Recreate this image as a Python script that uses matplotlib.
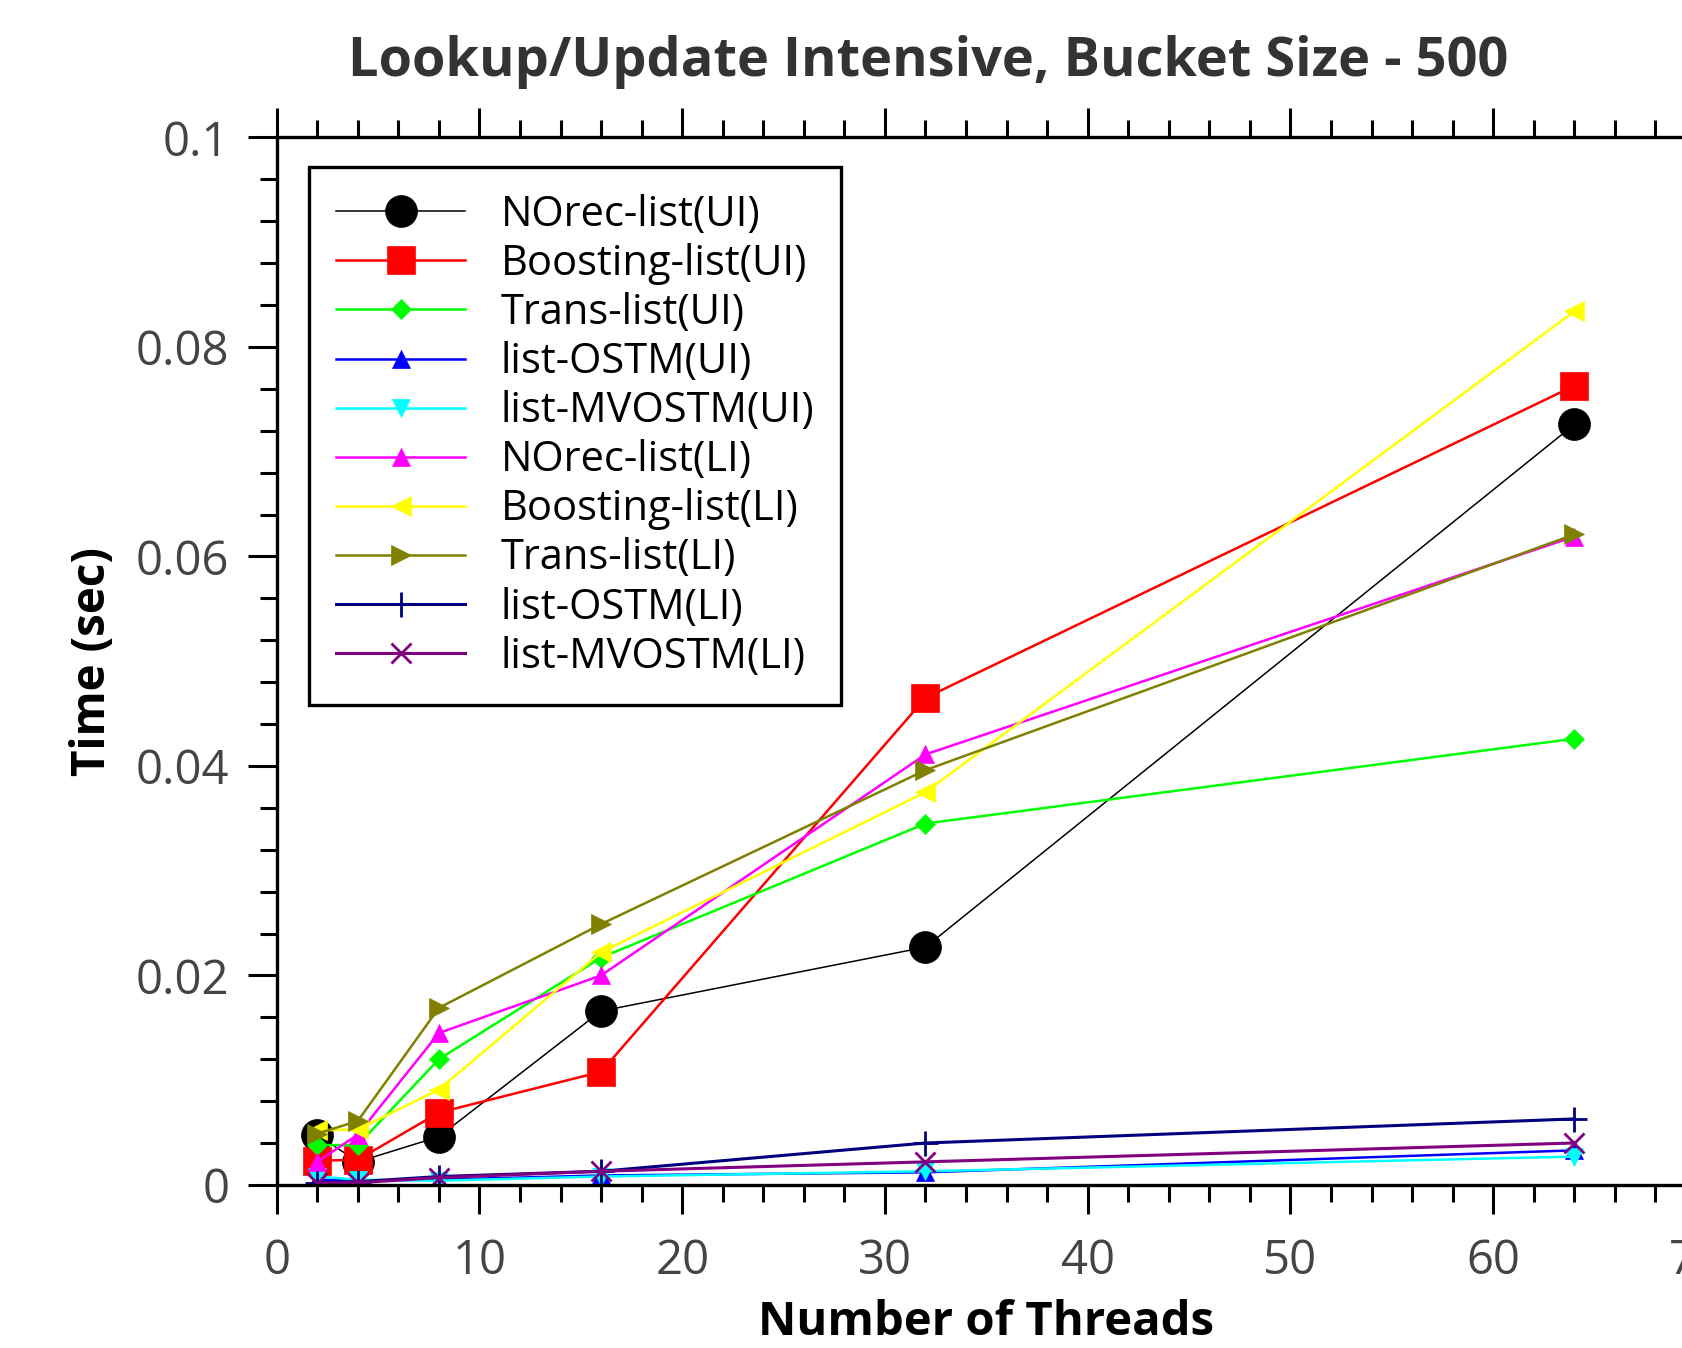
import matplotlib
matplotlib.use("Agg")
import matplotlib.pyplot as plt
from matplotlib.ticker import MultipleLocator

# data
threads = [2, 4, 8, 16, 32, 64]

labels = ['NOrec-list(UI)', 'Boosting-list(UI)', 'Trans-list(UI)', 'list-OSTM(UI)',
          'list-MVOSTM(UI)', 'NOrec-list(LI)', 'Boosting-list(LI)', 'Trans-list(LI)',
          'list-OSTM(LI)', 'list-MVOSTM(LI)']

norec_ui = [0.0048, 0.0022, 0.0046, 0.0166, 0.0227, 0.0726]
boost_ui = [0.0023, 0.0024, 0.0069, 0.0108, 0.0465, 0.0763]
trans_ui = [0.0038, 0.0038, 0.0120, 0.0217, 0.0345, 0.0426]
ostm_ui = [0.0005, 0.0004, 0.0005, 0.0009, 0.0012, 0.0033]
mvostm_ui = [0.0008, 0.0005, 0.0004, 0.0008, 0.0013, 0.0027]
norec_li = [0.0022, 0.0048, 0.0145, 0.0200, 0.0411, 0.0619]
boost_li = [0.0052, 0.0053, 0.0091, 0.0222, 0.0375, 0.0834]
trans_li = [0.0049, 0.0061, 0.0169, 0.0249, 0.0396, 0.0621]
ostm_li = [0.0002, 0.0003, 0.0008, 0.0013, 0.0040, 0.0063]
mvostm_li = [0.0002, 0.0002, 0.0007, 0.0013, 0.0022, 0.0040]

series = [norec_ui, boost_ui, trans_ui, ostm_ui, mvostm_ui,
          norec_li, boost_li, trans_li, ostm_li, mvostm_li]
colors = ['black', '#ff0000', '#00ff00', '#0000ff', '#00ffff',
          '#ff00ff', '#ffff00', '#808000', '#000080', '#800080']
markers = ['o', 's', 'D', '^', 'v', '^', '<', '>', '+', 'x']
msizes = [23, 20, 10, 13, 13, 13, 14, 14, 18, 14]
lwidths = [1.1, 1.8, 1.8, 1.8, 1.8, 1.8, 1.8, 1.8, 2.2, 2.2]

plt.rcParams['font.family'] = ['Open Sans', 'DejaVu Sans']

fig = plt.figure(figsize=(16.82, 13.48), dpi=100)
ax = fig.add_axes([0.1645, 0.121, 0.8438, 0.777])

for ys, lab, c, m, ms, lw in zip(series, labels, colors, markers, msizes, lwidths):
    ax.plot(threads, ys, color=c, marker=m, markersize=ms, linewidth=lw,
            markeredgewidth=2 if m in '+x' else 0.5, markeredgecolor=c, label=lab)

ax.set_xlim(0, 70)
ax.set_ylim(0, 0.1)
ax.xaxis.set_major_locator(MultipleLocator(10))
ax.xaxis.set_minor_locator(MultipleLocator(2))
ax.yaxis.set_minor_locator(MultipleLocator(0.004))
ax.set_yticks([0, 0.02, 0.04, 0.06, 0.08, 0.1])
ax.set_yticklabels(['0', '0.02', '0.04', '0.06', '0.08', '0.1'])

for s in ax.spines.values():
    s.set_linewidth(2.4)

ax.tick_params(which='both', direction='out', top=True, right=False,
               labelsize=34, labelcolor='#444444', width=2.2)
ax.tick_params(which='major', length=21)
ax.tick_params(which='minor', length=12)
ax.tick_params(axis='x', pad=17)
ax.tick_params(axis='y', pad=13)

ax.set_title('Lookup/Update Intensive, Bucket Size - 500', fontsize=39,
             fontweight='bold', color='#333333', pad=44, x=0.459)
ax.set_xlabel('Number of Threads', fontsize=34, fontweight='bold', labelpad=10)
ax.set_ylabel('Time (sec)', fontsize=33, fontweight='bold', labelpad=14)

leg = ax.legend(loc='upper left', bbox_to_anchor=(0.0227, 0.972), borderaxespad=0,
                fontsize=30, fancybox=False, framealpha=1, edgecolor='black',
                handlelength=3.1, labelspacing=0.17, borderpad=0.65, handletextpad=0.85)
leg.get_frame().set_linewidth(2.4)

fig.savefig('out.png', dpi=100)
